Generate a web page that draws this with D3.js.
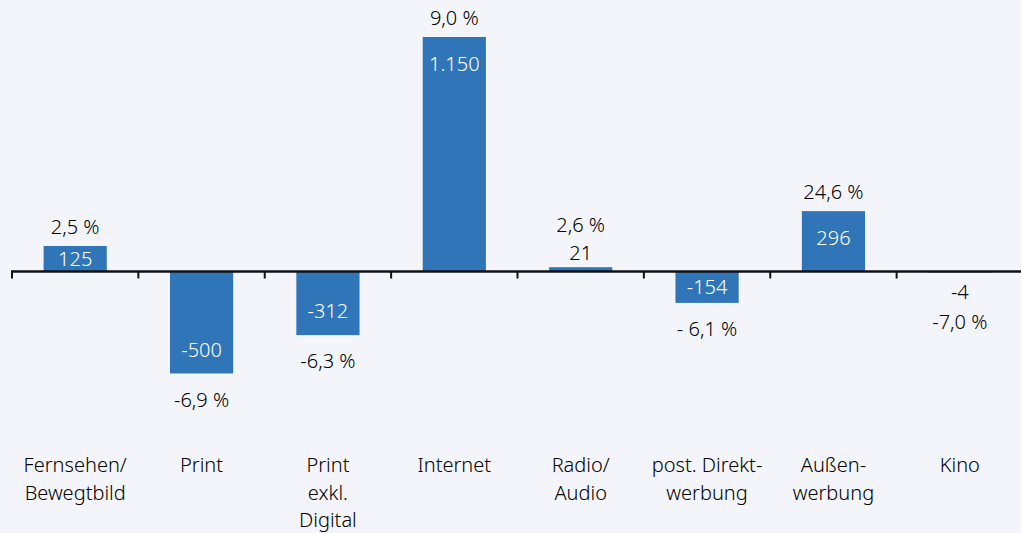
<!DOCTYPE html>
<html><head><meta charset="utf-8">
<script src="https://cdn.jsdelivr.net/npm/d3@7"></script>
<style>
html,body{margin:0;padding:0;background:#f4f5fa;}
svg{display:block;font-family:"Noto Sans","Open Sans",sans-serif;font-weight:350;}
</style></head><body>
<svg id="chart" width="1021" height="533"></svg>
<script>
const categories = [["Fernsehen/","Bewegtbild"],["Print"],["Print","exkl.","Digital"],["Internet"],["Radio/","Audio"],["post. Direkt-","werbung"],["Außen-","werbung"],["Kino"]];
const values = [125, -500, -312, 1150, 21, -154, 296, -4];
const valueLabels = ["125","-500","-312","1.150","21","-154","296","-4"];
const percentLabels = ["2,5 %","-6,9 %","-6,3 %","9,0 %","2,6 %","- 6,1 %","24,6 %","-7,0 %"];

const svg = d3.select("#chart");
const W = 1021, H = 533;
svg.append("rect").attr("width",W).attr("height",H).attr("fill","#f4f5fa");

const idx = d3.range(values.length);
const x = d3.scaleBand().domain(idx).range([12, 1023]).paddingInner(0.5).paddingOuter(0.25);
const y = d3.scaleLinear().domain([0, 1150]).range([271.5, 37]);
const step = x.step();

const g = svg.append("g");
g.selectAll("rect.bar").data(idx).join("rect")
  .attr("x", i => x(i))
  .attr("width", x.bandwidth())
  .attr("y", i => Math.min(y(values[i]), y(0)))
  .attr("height", i => Math.abs(y(values[i]) - y(0)))
  .attr("fill", "#2f75b7");

// axis
const axisG = svg.append("g");
axisG.append("line").attr("x1", 11).attr("x2", W).attr("y1", y(0)).attr("y2", y(0))
  .attr("stroke", "#111").attr("stroke-width", 2.5);
const tickX = d3.range(values.length + 1).map(k => 12 + k * step);
axisG.selectAll("line.tick").data(tickX).join("line")
  .attr("x1", d => d).attr("x2", d => d).attr("y1", y(0)).attr("y2", y(0) + 7)
  .attr("stroke", "#111").attr("stroke-width", 2);

const fs = 20;
// value labels
idx.forEach(i => {
  const v = values[i];
  const top = y(Math.max(v, 0)), bot = y(Math.min(v, 0));
  const h = bot - top;
  const cx = x(i) + x.bandwidth() / 2;
  let vy, inside = true, pctY;
  if (h < 20) {
    inside = false;
    if (v >= 0) { vy = top - 14; pctY = vy - 28; }
    else { vy = bot + 19; pctY = vy + 30; }
  } else {
    if (h < 50) vy = (top + bot) / 2;
    else vy = v >= 0 ? top + 27 : bot - 24;
    pctY = v >= 0 ? top - 19 : bot + 26;
  }
  svg.append("text").attr("x", cx).attr("y", vy).attr("dy", "0.36em")
    .attr("text-anchor", "middle").attr("font-size", fs)
    .attr("fill", inside ? "#ffffff" : "#000000").text(valueLabels[i]);
  svg.append("text").attr("x", cx).attr("y", pctY).attr("dy", "0.36em")
    .attr("text-anchor", "middle").attr("font-size", fs)
    .attr("fill", "#000000").text(percentLabels[i]);
});

// category labels
idx.forEach(i => {
  const cx = x(i) + x.bandwidth() / 2;
  const t = svg.append("text").attr("text-anchor", "middle").attr("font-size", fs).attr("fill", "#000000");
  categories[i].forEach((line, k) => {
    t.append("tspan").attr("x", cx).attr("y", 465 + k * 27.5).attr("dy", "0.36em").text(line);
  });
});
</script>
</body></html>
